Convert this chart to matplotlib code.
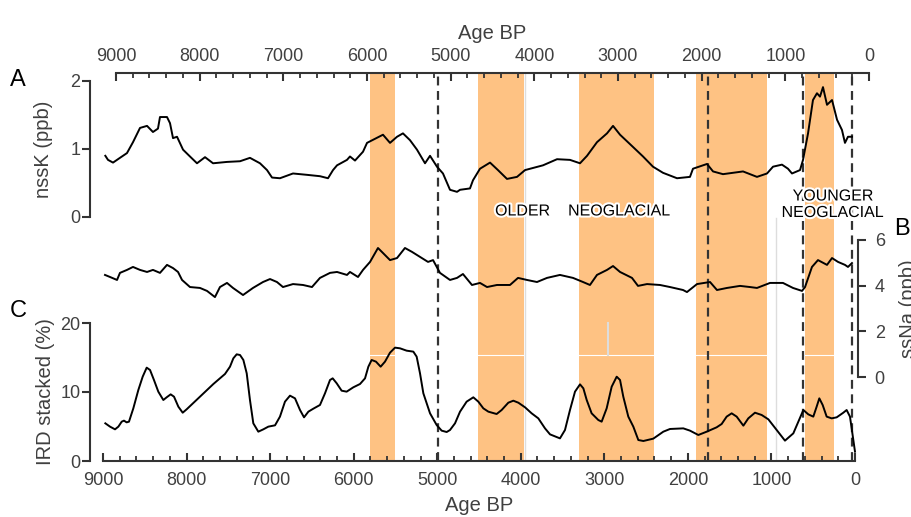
import matplotlib
matplotlib.use("Agg")
import matplotlib.pyplot as plt
import matplotlib.patheffects as pe
from matplotlib.ticker import MultipleLocator

plt.rcParams['font.family'] = ['Liberation Sans', 'DejaVu Sans']

# ---------------- data (Age BP) ----------------
nssk_age = [8972, 8940, 8880, 8797, 8713, 8641, 8557, 8473, 8402, 8342, 8318, 8234, 8198, 8162,
            8114, 8042, 7959, 7875, 7779, 7683, 7516, 7360, 7241, 7121, 7037, 6977, 6882, 6726,
            6558, 6403, 6307, 6247, 6199, 6080, 6044, 5984, 5888, 5840, 5649, 5565, 5481, 5410,
            5326, 5242, 5146, 5086, 5003, 4931, 4847, 4763, 4727, 4608, 4572, 4488, 4368, 4273,
            4165, 4045, 3949, 3734, 3566, 3411, 3291, 3207, 3088, 2968, 2896, 2812, 2657, 2537,
            2418, 2298, 2130, 1975, 1939, 1771, 1699, 1580, 1340, 1173, 1053, 981, 874, 802, 754,
            658, 622, 562, 503, 455, 419, 383, 335, 275, 215, 156, 120, 84, 36]
nssk_val = [0.90, 0.84, 0.80, 0.87, 0.94, 1.10, 1.31, 1.34, 1.25, 1.30, 1.47, 1.47, 1.38, 1.16,
            1.18, 0.99, 0.89, 0.79, 0.88, 0.79, 0.81, 0.82, 0.87, 0.79, 0.69, 0.58, 0.57, 0.64,
            0.62, 0.60, 0.57, 0.69, 0.76, 0.84, 0.89, 0.83, 0.96, 1.09, 1.21, 1.09, 1.18, 1.23,
            1.13, 0.99, 0.79, 0.90, 0.74, 0.64, 0.40, 0.37, 0.40, 0.42, 0.54, 0.71, 0.80, 0.69,
            0.56, 0.59, 0.69, 0.76, 0.85, 0.84, 0.79, 0.90, 1.10, 1.23, 1.34, 1.21, 1.03, 0.89,
            0.74, 0.65, 0.57, 0.59, 0.71, 0.78, 0.67, 0.63, 0.67, 0.59, 0.64, 0.74, 0.77, 0.71,
            0.64, 0.69, 0.84, 1.23, 1.72, 1.82, 1.77, 1.91, 1.65, 1.72, 1.43, 1.28, 1.09, 1.18, 1.18]

ssna_age = [8976, 8916, 8832, 8797, 8713, 8641, 8557, 8473, 8402, 8318, 8234, 8162, 8102, 8054,
            7959, 7839, 7755, 7660, 7600, 7516, 7444, 7324, 7205, 7085, 7001, 6918, 6846, 6726,
            6606, 6499, 6403, 6283, 6199, 6080, 6044, 5948, 5888, 5804, 5709, 5649, 5565, 5481,
            5386, 5302, 5206, 5110, 5050, 4967, 4847, 4763, 4692, 4584, 4488, 4404, 4285, 4129,
            4033, 3926, 3806, 3686, 3531, 3375, 3255, 3172, 3088, 2968, 2896, 2812, 2669, 2597,
            2489, 2334, 2214, 2058, 2011, 1891, 1735, 1652, 1532, 1376, 1257, 1173, 1017, 862,
            742, 634, 598, 515, 443, 335, 275, 203, 120, 84, 36]
ssna_val = [4.47, 4.38, 4.25, 4.56, 4.69, 4.82, 4.69, 4.60, 4.69, 4.56, 4.91, 4.77, 4.60, 4.25,
            3.94, 3.90, 3.77, 3.50, 3.94, 4.12, 3.90, 3.59, 3.90, 4.16, 4.29, 4.16, 3.94, 4.07,
            4.03, 3.94, 4.34, 4.56, 4.60, 4.47, 4.60, 4.38, 4.69, 5.04, 5.65, 5.43, 5.12, 5.21,
            5.65, 5.48, 5.26, 5.04, 5.12, 4.56, 4.25, 4.34, 4.51, 4.03, 4.12, 3.94, 4.03, 4.03,
            4.34, 4.25, 4.16, 4.34, 4.47, 4.34, 4.16, 4.03, 4.47, 4.69, 4.86, 4.60, 4.34, 3.99,
            4.07, 4.03, 3.94, 3.81, 3.72, 4.07, 4.16, 3.81, 3.90, 3.99, 3.94, 3.90, 4.12, 4.12,
            3.90, 3.77, 3.94, 4.82, 5.12, 4.91, 5.21, 5.04, 4.91, 4.82, 4.99]

ird_age = [8972, 8916, 8856, 8816, 8776, 8749, 8717, 8689, 8637, 8577, 8525, 8477, 8437, 8390,
           8338, 8278, 8238, 8190, 8150, 8098, 8046, 7999, 7839, 7679, 7600, 7540, 7480, 7440,
           7400, 7360, 7320, 7280, 7241, 7201, 7141, 7081, 7021, 6941, 6882, 6822, 6762, 6702,
           6642, 6594, 6542, 6483, 6403, 6343, 6283, 6251, 6203, 6144, 6084, 6004, 5924, 5864,
           5824, 5785, 5733, 5677, 5625, 5565, 5505, 5445, 5366, 5286, 5246, 5206, 5166, 5086,
           5007, 4947, 4887, 4847, 4787, 4727, 4648, 4568, 4508, 4448, 4388, 4289, 4229, 4149,
           4089, 4029, 3949, 3870, 3790, 3710, 3650, 3531, 3471, 3411, 3351, 3291, 3251, 3211,
           3152, 3072, 3032, 2972, 2912, 2852, 2812, 2773, 2713, 2653, 2593, 2533, 2414, 2294,
           2214, 2055, 1975, 1875, 1775, 1656, 1596, 1536, 1476, 1416, 1336, 1277, 1197, 1117,
           1037, 937, 838, 738, 618, 559, 499, 459, 427, 387, 339, 279, 219, 140, 100, 60, 0]
ird_val = [5.46, 4.98, 4.59, 4.98, 5.70, 5.85, 5.60, 5.70, 7.63, 10.29, 12.22, 13.53, 13.19, 11.74,
           10.05, 8.84, 9.23, 9.66, 9.32, 7.87, 7.00, 7.49, 9.32, 11.16, 11.98, 12.61, 13.67, 14.88,
           15.46, 15.36, 14.64, 12.71, 8.84, 5.46, 4.25, 4.59, 4.98, 5.17, 6.43, 8.60, 9.47, 9.08,
           7.39, 6.33, 7.15, 7.58, 8.12, 9.81, 11.74, 11.98, 11.26, 10.19, 10.05, 10.68, 11.16, 11.98,
           13.67, 14.64, 14.40, 13.67, 14.40, 15.70, 16.43, 16.33, 15.99, 15.85, 15.12, 12.71, 9.81, 6.91,
           5.22, 4.40, 4.20, 4.49, 5.46, 7.15, 8.60, 9.23, 8.60, 7.63, 7.15, 6.81, 7.39, 8.45,
           8.74, 8.45, 7.78, 6.91, 6.18, 4.73, 3.86, 3.28, 4.49, 7.39, 10.05, 11.11, 10.53, 8.84,
           6.91, 5.94, 5.70, 7.63, 10.77, 12.22, 11.74, 9.32, 6.43, 4.98, 3.04, 2.90, 3.24, 4.25,
           4.64, 4.73, 4.40, 3.77, 4.25, 4.88, 5.36, 6.43, 6.91, 6.43, 5.12, 6.18, 7.00, 6.67,
           6.04, 4.49, 2.95, 4.01, 7.39, 6.76, 6.43, 7.87, 9.08, 8.12, 6.43, 6.18, 6.33, 7.00, 7.39, 6.43, 1.35]

bands = [(5804, 5505), (4508, 3960), (3303, 2406), (1903, 1053), (598, 251)]
dashed = [4990, 1755, 620, 40]
age_ticks = list(range(0, 9001, 1000))

# ---------------- layout ----------------
W, H = 912, 517
fig = plt.figure(figsize=(W / 100, H / 100), dpi=100)
fig.patch.set_facecolor('white')

def add_ax(x0, x1, y0, y1):
    ax = fig.add_axes([x0 / W, 1 - y1 / H, (x1 - x0) / W, (y1 - y0) / H])
    ax.patch.set_visible(False)
    return ax

XL = (9155.5, -167.6)  # x-limits for axes spanning px 90..869
SPC = '#333333'
TXC = '#404040'
BAND = '#fec283'

# background: bands and dashed lines
bg = add_ax(90, 869, 73, 461)
bg.set_xlim(*XL)
bg.set_ylim(0, 1)
bg.axis('off')
for a, b in bands:
    bg.axvspan(a, b, color=BAND, lw=0, zorder=1)
bg.axhline(0.273, color='white', lw=0.8, zorder=2)
bg.axvline(3950, color='#dddddd', lw=1.0, zorder=2)
bg.axvline(2960, ymin=0.273, ymax=0.356, color='#dddddd', lw=1.5, zorder=2)
bg.axvline(949, ymin=0.0, ymax=0.626, color='#dddddd', lw=1.0, zorder=2)
for d in dashed:
    bg.axvline(d, color=SPC, lw=1.6, ls=(0, (4, 2.5)), zorder=3)

def style_common(ax):
    for s in ax.spines.values():
        s.set_visible(False)
        s.set_color(SPC)
        s.set_linewidth(1.5)

# top age axis
axT = add_ax(116, 869, 73, 217)
style_common(axT)
axT.set_xlim(9000, 0)
axT.spines['top'].set_visible(True)
axT.xaxis.set_ticks_position('top')
axT.xaxis.set_label_position('top')
axT.set_xticks(age_ticks)
axT.xaxis.set_minor_locator(MultipleLocator(200))
axT.tick_params(axis='x', which='major', direction='in', length=6, width=1.5, color=SPC,
                labelsize=13, labelcolor=TXC, pad=5.5)
axT.tick_params(axis='x', which='minor', direction='in', length=3.5, width=1.3, color=SPC)
axT.set_yticks([])
axT.set_xlabel('Age BP', fontsize=14.5, color=TXC, labelpad=7)

# panel A
axA = add_ax(90, 869, 81, 217)
style_common(axA)
axA.set_xlim(*XL)
axA.set_ylim(0, 2)
axA.spines['left'].set_visible(True)
axA.set_xticks([])
axA.set_yticks([0, 1, 2])
axA.tick_params(axis='y', direction='out', length=6, width=1.5, color=SPC,
                labelsize=13, labelcolor=TXC, pad=1)
axA.plot(nssk_age, nssk_val, color='black', lw=1.4, clip_on=False, zorder=5)
axA.set_ylabel('nssK (ppb)', fontsize=14.5, color=TXC, labelpad=12)

# panel B
axB = add_ax(90, 858, 240, 377)
style_common(axB)
axB.set_xlim(XL[0], XL[0] - (858 - 90) * (XL[0] - XL[1]) / (869 - 90))
axB.set_ylim(0, 6)
axB.spines['right'].set_visible(True)
axB.yaxis.set_ticks_position('right')
axB.yaxis.set_label_position('right')
axB.set_xticks([])
axB.set_yticks([0, 2, 4, 6])
axB.tick_params(axis='y', direction='out', length=6, width=1.5, color=SPC,
                labelsize=13, labelcolor=TXC, pad=6)
axB.plot(ssna_age, ssna_val, color='black', lw=1.4, clip_on=False, zorder=5)
axB.set_ylabel('ssNa (ppb)', fontsize=14.5, color=TXC, labelpad=10, rotation=90)

# panel C
axC = add_ax(90, 869, 323, 461)
style_common(axC)
axC.set_xlim(*XL)
axC.set_ylim(0, 20)
axC.spines['left'].set_visible(True)
axC.spines['bottom'].set_visible(True)
axC.spines['bottom'].set_bounds(0, 9000)
axC.set_xticks(age_ticks)
axC.xaxis.set_minor_locator(MultipleLocator(200))
axC.tick_params(axis='x', which='major', direction='in', length=6, width=1.5, color=SPC,
                labelsize=13, labelcolor=TXC, pad=8)
axC.tick_params(axis='x', which='minor', direction='in', length=3.5, width=1.3, color=SPC)
axC.set_yticks([0, 10, 20])
axC.tick_params(axis='y', direction='out', length=6, width=1.5, color=SPC,
                labelsize=13, labelcolor=TXC, pad=1)
axC.plot(ird_age, ird_val, color='black', lw=1.4, clip_on=False, zorder=5)
axC.set_ylabel('IRD stacked (%)', fontsize=14.5, color=TXC, labelpad=4)
axC.set_xlabel('Age BP', fontsize=14.5, color=TXC, labelpad=5)

# panel letters
fig.text(10 / W, 1 - 80 / H, 'A', fontsize=17, color='black', va='center', ha='left')
fig.text(10 / W, 1 - 311 / H, 'C', fontsize=17, color='black', va='center', ha='left')
fig.text(894 / W, 1 - 229 / H, 'B', fontsize=17, color='black', va='center', ha='left')

# labels with white halo
halo = [pe.withStroke(linewidth=3, foreground='white')]
for txt, xp, yp in [('OLDER', 522.5, 211), ('NEOGLACIAL', 619, 211),
                    ('YOUNGER', 833, 196), ('NEOGLACIAL', 832.5, 212.5)]:
    fig.text(xp / W, 1 - yp / H, txt, fontsize=11.5, color='black', ha='center', va='center',
             path_effects=halo, zorder=10)

fig.savefig('out.png', dpi=100)
